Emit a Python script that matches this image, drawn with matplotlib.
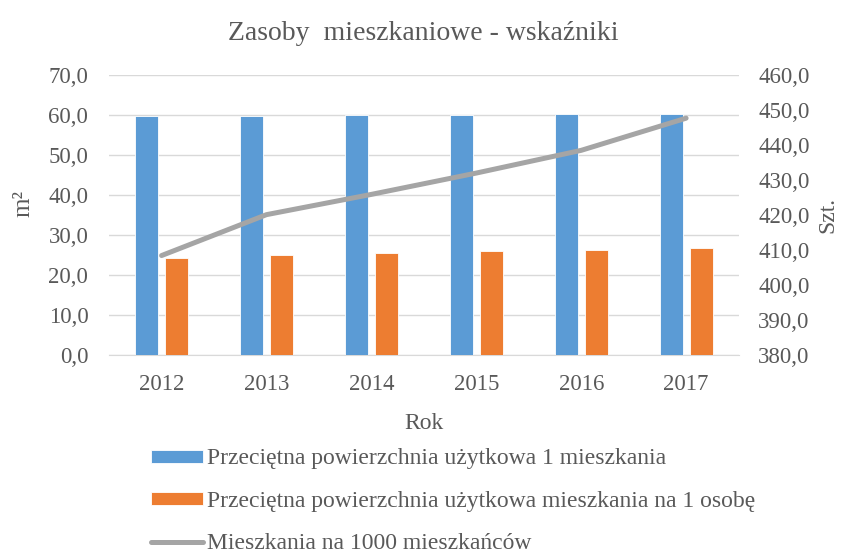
import numpy as np
import matplotlib
matplotlib.use('Agg')
import matplotlib.pyplot as plt

years = ['2012', '2013', '2014', '2015', '2016', '2017']
pow_mieszkania = [59.8, 59.9, 60.0, 60.0, 60.2, 60.2]
pow_osoba = [24.3, 25.0, 25.4, 25.9, 26.3, 26.8]
mieszkania_1000 = [408.4, 420.1, 425.9, 432.0, 438.5, 447.7]

labels = ['Przeciętna powierzchnia użytkowa 1 mieszkania',
          'Przeciętna powierzchnia użytkowa mieszkania na 1 osobę',
          'Mieszkania na 1000 mieszkańców']

txt = '#595959'
plt.rcParams['font.family'] = ['Liberation Serif', 'DejaVu Serif']

fig = plt.figure(figsize=(8.46, 5.57), dpi=100)
ax = fig.add_axes([0.129, 0.363, 0.744, 0.502])
ax2 = ax.twinx()

x = np.arange(len(years))
w = 0.218
off = (w + 0.068) / 2
b1 = ax.bar(x - off, pow_mieszkania, w, color='#5B9BD5', edgecolor='white', linewidth=0.6, zorder=3)
b2 = ax.bar(x + off, pow_osoba, w, color='#ED7D31', edgecolor='white', linewidth=0.6, zorder=3)
ln, = ax2.plot(x, mieszkania_1000, color='#A5A5A5', lw=3.6, solid_capstyle='round', zorder=4)

ax.set_xlim(-0.5, len(years) - 0.5)
ax.set_ylim(0, 70)
ax.set_yticks(np.arange(0, 71, 10))
ax.set_yticklabels([f'{v:.1f}'.replace('.', ',') for v in np.arange(0, 71, 10)])
ax2.set_ylim(380, 460)
ax2.set_yticks(np.arange(380, 461, 10))
ax2.set_yticklabels([f'{v:.1f}'.replace('.', ',') for v in np.arange(380, 461, 10)])
ax.set_xticks(x)
ax.set_xticklabels(years)

ax.grid(axis='y', color='#D9D9D9', lw=1.0, zorder=0)
ax.set_axisbelow(True)
for a in (ax, ax2):
    for s in a.spines.values():
        s.set_visible(False)
    a.tick_params(length=0, labelsize=16.5, colors=txt)
ax.spines['bottom'].set_visible(True)
ax.spines['bottom'].set_color('#D9D9D9')
ax.tick_params(axis='y', pad=15)
ax2.tick_params(axis='y', pad=14)
ax.tick_params(axis='x', pad=14)

ax.set_ylabel('m²', fontsize=18, color=txt)
ax.yaxis.set_label_coords(-0.118, 0.54)
ax2.set_ylabel('Szt.', fontsize=17, color=txt, labelpad=6)
ax.set_xlabel('Rok', fontsize=17, color=txt, labelpad=13)
fig.suptitle('Zasoby  mieszkaniowe - wskaźniki', fontsize=20, color=txt, y=0.962)

fig.legend([b1, b2, ln], labels, loc='upper left', bbox_to_anchor=(0.165, 0.216),
           frameon=False, fontsize=17, labelcolor=txt, handlelength=2.2,
           handleheight=0.47, handletextpad=0.14, labelspacing=0.9, borderpad=0)

fig.savefig('out.png', dpi=100)
